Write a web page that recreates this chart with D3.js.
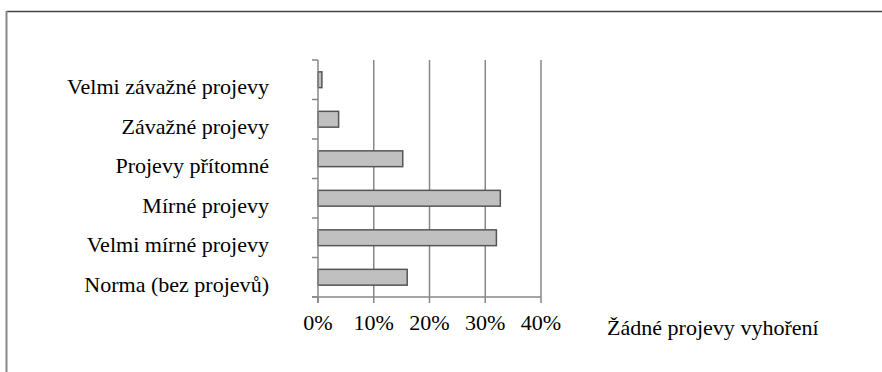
<!DOCTYPE html>
<html>
<head>
<meta charset="utf-8">
<script src="https://cdn.jsdelivr.net/npm/d3@7"></script>
<style>
  html, body { margin: 0; padding: 0; background: #fff; }
  svg { display: block; }
  text { font-family: "Liberation Serif", "Times New Roman", serif; fill: #000; }
</style>
</head>
<body>
<svg id="chart" width="882" height="372"></svg>
<script>
// Burnout symptom levels, top to bottom as listed on the vertical axis
const categories = [
  "Velmi závažné projevy",
  "Závažné projevy",
  "Projevy přítomné",
  "Mírné projevy",
  "Velmi mírné projevy",
  "Norma (bez projevů)"
];
// Share of respondents in each level
const shares = [0.007, 0.037, 0.152, 0.327, 0.320, 0.160];
const xTicks = [0, 0.1, 0.2, 0.3, 0.4];
const xTickLabels = ["0%", "10%", "20%", "30%", "40%"];
const axisTitle = "Žádné projevy vyhoření";

const svg = d3.select("#chart");
const fontSize = 21;
const widen = 1.05; // slightly wide type

// frame around the chart area
svg.append("line").attr("x1", 6.5).attr("x2", 882).attr("y1", 11.5).attr("y2", 11.5)
  .attr("stroke", "#444").attr("stroke-width", 1.5);
svg.append("line").attr("x1", 6.5).attr("x2", 6.5).attr("y1", 11).attr("y2", 372)
  .attr("stroke", "#888").attr("stroke-width", 2);

const plot = { left: 318, right: 541, top: 60, bottom: 297 };

const x = d3.scaleLinear().domain([0, 0.4]).range([plot.left, plot.right]);
const y = d3.scaleBand().domain(categories).range([plot.top, plot.bottom])
  .paddingInner(0.6).paddingOuter(0.3);

const gridColor = "#878787";

// vertical gridlines
svg.append("g").selectAll("line").data(xTicks.slice(1)).join("line")
  .attr("x1", d => x(d)).attr("x2", d => x(d))
  .attr("y1", plot.top).attr("y2", plot.bottom)
  .attr("stroke", gridColor).attr("stroke-width", 1.5);

// bars
svg.append("g").selectAll("rect").data(categories).join("rect")
  .attr("x", x(0))
  .attr("y", d => y(d))
  .attr("width", (d, i) => x(shares[i]) - x(0))
  .attr("height", y.bandwidth())
  .attr("fill", "#c0c0c0")
  .attr("stroke", "#555")
  .attr("stroke-width", 1.5);

// category axis: line and ticks at band boundaries
const step = y.step();
const bounds = d3.range(categories.length + 1).map(i => plot.top + i * step);
svg.append("line").attr("x1", plot.left).attr("x2", plot.left)
  .attr("y1", plot.top).attr("y2", plot.bottom + 6)
  .attr("stroke", gridColor).attr("stroke-width", 1.5);
svg.append("g").selectAll("line").data(bounds).join("line")
  .attr("x1", plot.left - 6).attr("x2", plot.left)
  .attr("y1", d => d).attr("y2", d => d)
  .attr("stroke", gridColor).attr("stroke-width", 1.5);

// value axis: line and ticks
svg.append("line").attr("x1", plot.left - 6).attr("x2", plot.right)
  .attr("y1", plot.bottom).attr("y2", plot.bottom)
  .attr("stroke", gridColor).attr("stroke-width", 1.5);
svg.append("g").selectAll("line").data(xTicks).join("line")
  .attr("x1", d => x(d)).attr("x2", d => x(d))
  .attr("y1", plot.bottom).attr("y2", plot.bottom + 6)
  .attr("stroke", gridColor).attr("stroke-width", 1.5);

const place = (px, py) => `translate(${px},${py}) scale(${widen},1)`;

// tick labels
svg.append("g").selectAll("text").data(xTicks).join("text")
  .attr("transform", d => place(x(d), 330))
  .attr("text-anchor", "middle")
  .attr("font-size", fontSize)
  .text((d, i) => xTickLabels[i]);

// category labels
svg.append("g").selectAll("text").data(categories).join("text")
  .attr("transform", d => place(269, y(d) + y.bandwidth() / 2 + 14.6))
  .attr("text-anchor", "end")
  .attr("font-size", fontSize)
  .text(d => d);

// axis title
svg.append("text").attr("transform", place(607, 335))
  .attr("font-size", fontSize)
  .text(axisTitle);
</script>
</body>
</html>
